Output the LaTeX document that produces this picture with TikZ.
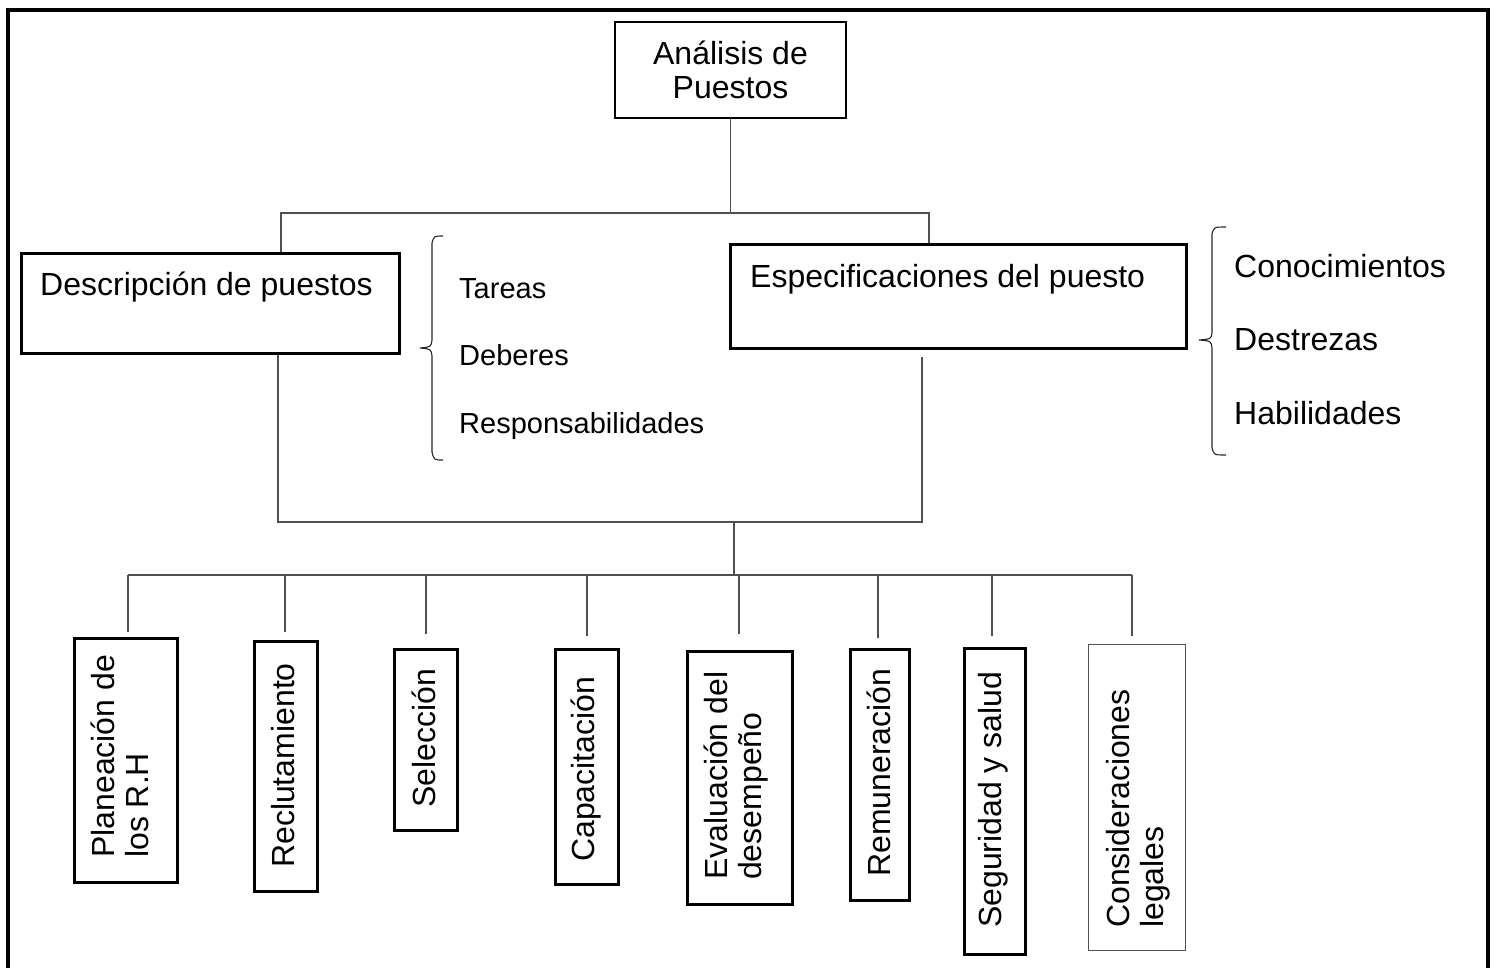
\documentclass[tikz,border=0pt]{standalone}
\usepackage{fontspec}
\setmainfont{Liberation Sans}
\definecolor{linec}{RGB}{80,80,80}
\begin{document}
\begin{tikzpicture}[x=1pt,y=-1pt,
  box/.style={draw=black,line width=2.5pt,inner sep=0pt,anchor=north west},
  thinbox/.style={draw=linec,line width=1.4pt,inner sep=0pt,anchor=north west},
  conn/.style={draw=linec,line width=1.8pt},
  brace/.style={draw=black!85,line width=1.1pt},
  big/.style={font=\fontsize{32}{34}\selectfont,inner sep=0pt},
  small/.style={font=\fontsize{29}{34}\selectfont,inner sep=0pt},
  vert/.style={big,rotate=90,anchor=west,align=left}]
\useasboundingbox (0,0) rectangle (1496,967);

% outer frame (open at the bottom)
\draw[line width=4pt] (7.5,990) -- (7.5,9.5) -- (1488,9.5) -- (1488,990);

% top level
\node[box,anchor=center,minimum width=231pt,minimum height=96pt,big,align=center]
  (ana) at (730.5,70) {Análisis de\\Puestos};

% second level
\node[box,minimum width=378pt,minimum height=100pt] (desc) at (20,252) {};
\node[big,anchor=base west] (descT) at (40,295) {Descripción de puestos};
\node[box,minimum width=456pt,minimum height=104pt] (esp) at (729,243) {};
\node[big,anchor=base west] (espT) at (750,287) {Especificaciones del puesto};

% lists with braces
\node[small,anchor=base west] (l1) at (459,298) {Tareas};
\node[small,anchor=base west] (l2) at (459,365) {Deberes};
\node[small,anchor=base west] (l3) at (459,433) {Responsabilidades};
\node[big,anchor=base west] (r1) at (1234,277) {Conocimientos};
\node[big,anchor=base west] (r2) at (1234,350) {Destrezas};
\node[big,anchor=base west] (r3) at (1234,424) {Habilidades};

\draw[brace] (443,236) .. controls (434,236) .. (432,243) -- (432,340)
  .. controls (431,347) .. (420,348) .. controls (431,349) .. (432,356)
  -- (432,452) .. controls (434,460) .. (443,460);
\draw[brace] (1226,227) .. controls (1214,227) .. (1212,234) -- (1212,333)
  .. controls (1211,339) .. (1199,340) .. controls (1211,341) .. (1212,348)
  -- (1212,448) .. controls (1214,455) .. (1226,455);

% connectors between the upper levels
\coordinate (jl) at (281,213);
\coordinate (jr) at (929,213);
\draw[conn] (ana.south) -- (ana.south |- jl);
\draw[conn] (jl |- desc.north) -- (jl) -- (jr) -- (jr |- esp.north);

\coordinate (dl) at (278,522);
\coordinate (dr) at (922,522);
\coordinate (drs) at (922,357);
\draw[conn] (dl |- desc.south) -- (dl) -- (dr) -- (drs);

\coordinate (jm) at (734,522);
\coordinate (busL) at (128,575);
\coordinate (busR) at (1132,575);
\draw[conn] (jm) -- (jm |- busL);
\draw[conn] (busL) -- (busR);

% bottom level
\node[box,minimum width=103pt,minimum height=244pt] (b1) at (73,637) {};
\node[box,minimum width=63pt,minimum height=250pt] (b2) at (253,640) {};
\node[box,minimum width=63pt,minimum height=181pt] (b3) at (393,648) {};
\node[box,minimum width=63pt,minimum height=235pt] (b4) at (554,648) {};
\node[box,minimum width=105pt,minimum height=253pt] (b5) at (686,650) {};
\node[box,minimum width=59pt,minimum height=251pt] (b6) at (849,648) {};
\node[box,minimum width=61pt,minimum height=306pt] (b7) at (963,647) {};
\node[thinbox,minimum width=97pt,minimum height=306pt] (b8) at (1088,644) {};

\node[vert] (t1) at (120,858) {Planeación de\\los R.H};
\node[vert] (t2) at (283,868) {Reclutamiento};
\node[vert] (t3) at (424,808) {Selección};
\node[vert] (t4) at (586,862) {Capacitación};
\node[vert] (t5) at (736,880) {Evaluación del\\desempeño};
\node[vert] (t6) at (878.5,877) {Remuneración};
\node[vert] (t7) at (993.5,928) {Seguridad y salud};
\node[vert] (t8) at (1138,928) {Consideraciones\\legales};

% drops from the bus to each box
\foreach \n/\x/\y in {1/128/632,2/285/632,3/426/634,4/587/636,5/739/634,6/878/638,7/992/636,8/1132/636}{
  \coordinate (d\n) at (\x,\y);
  \draw[conn] (d\n |- busL) -- (d\n);
}
\end{tikzpicture}
\end{document}
